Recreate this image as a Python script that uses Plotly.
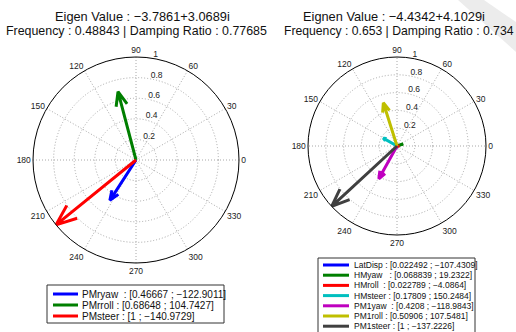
import math
import plotly.graph_objects as go

W, H = 516, 332

# ---- data ----
left_names = ["PMryaw", "PMrroll", "PMsteer"]
left_mags = [0.46667, 0.68648, 1]
left_angles = [-122.9011, 104.7427, -140.9729]
left_colors = ["#0000ff", "#007f00", "#ff0000"]

right_names = ["LatDisp", "HMyaw", "HMroll", "HMsteer", "PM1yaw", "PM1roll", "PM1steer"]
right_mags = [0.022492, 0.068839, 0.022789, 0.17809, 0.4208, 0.50906, 1]
right_angles = [-107.4309, 19.2322, -4.0864, 150.2484, -118.9843, 107.5481, -137.2226]
right_colors = ["#0000ff", "#007f00", "#ff0000", "#00bfbf", "#bf00bf", "#bfbf00", "#404040"]

left_title = ["Eigen Value : \u22123.7861+3.0689i", "Frequency : 0.48843 | Damping Ratio : 0.77685"]
right_title = ["Eignen Value : \u22124.4342+4.1029i", "Frequency : 0.653 | Damping Ratio : 0.734"]

angle_ticks = list(range(0, 360, 30))
radial_ticks = [0.2, 0.4, 0.6, 0.8, 1]
radial_labels = ["0.2", "0.4", "0.6", "0.8", "1"]

FONT = "Liberation Sans, Arial, sans-serif"


def px(x):
    return x / W


def py(y):
    return 1 - y / H


def arrow(m, a):
    # MATLAB compass arrow: 0 -> tip -> 0.8+0.08i -> tip -> 0.8-0.08i
    back = m * math.hypot(0.8, 0.08)
    da = math.degrees(math.atan2(0.08, 0.8))
    return [0, m, back, m, back], [a, a, a + da, a, a - da]


fig = go.Figure()

for names, mags, angs, cols, sub in [
    (left_names, left_mags, left_angles, left_colors, "polar"),
    (right_names, right_mags, right_angles, right_colors, "polar2"),
]:
    for n, m, a, c in zip(names, mags, angs, cols):
        r, t = arrow(m, a)
        fig.add_trace(go.Scatterpolar(r=r, theta=t, mode="lines", name=n,
                                      line=dict(color=c, width=3), subplot=sub,
                                      showlegend=False, hoverinfo="skip"))

GRID = "#a8a8a8"
RAD_ANGLE = 83


def polar_layout(domx, domy, fs):
    return dict(
        domain=dict(x=domx, y=domy),
        bgcolor="white",
        radialaxis=dict(range=[0, 1], tickvals=radial_ticks,
                        ticktext=[t + "<br>\u00a0" for t in radial_labels],
                        angle=RAD_ANGLE, tickangle=RAD_ANGLE, showline=False, ticks="",
                        gridcolor=GRID, griddash="1px,2px", gridwidth=1,
                        tickfont=dict(size=fs, color="#222", family=FONT)),
        angularaxis=dict(tickvals=angle_ticks, ticktext=[str(v) for v in angle_ticks],
                         rotation=0, direction="counterclockwise", showline=True,
                         linecolor="black", linewidth=1, ticks="",
                         gridcolor=GRID, griddash="1px,2px", gridwidth=1,
                         tickfont=dict(size=fs, color="#222", family=FONT)),
    )


fig.update_layout(
    width=W, height=H, margin=dict(l=0, r=0, t=0, b=0),
    paper_bgcolor="white", plot_bgcolor="white",
    showlegend=False,
    polar=polar_layout([px(33), px(239)], [py(263), py(57)], 8.5),
    polar2=polar_layout([px(308), px(486)], [py(235), py(57)], 8.5),
    font=dict(family=FONT, color="#111"),
)

shapes = []
annotations = []

# watermark band (background decoration)
shapes.append(dict(type="path", xref="paper", yref="paper", layer="below",
                   path=f"M {px(458)} {py(0)} L {px(484)} {py(0)} L {px(516)} {py(22)} L {px(516)} {py(52)} Z",
                   fillcolor="#ececec", line=dict(width=0)))

# titles
for txt, x, y, anc, fs in [(left_title[0], 142, 16.3, "center", 12.8), (left_title[1], 136, 31.3, "center", 12.4),
                           (right_title[0], 394, 16.3, "center", 12.8), (right_title[1], 283, 31.3, "left", 12.2)]:
    annotations.append(dict(text=txt, x=px(x), y=py(y), xref="paper", yref="paper",
                            xanchor=anc, yanchor="middle", showarrow=False, borderpad=0,
                            font=dict(size=fs, family=FONT, color="#111")))


def fmt(v):
    return str(v).replace("-", "\u2212")


def legend(names, mags, angs, cols, box, y0, dy, lx0, lx1, tx, fs):
    shapes.append(dict(type="rect", xref="paper", yref="paper",
                       x0=px(box[0]), x1=px(box[1]), y0=py(box[2]), y1=py(box[3]),
                       line=dict(color="#333", width=1), fillcolor="white"))
    for i, (n, m, a, c) in enumerate(zip(names, mags, angs, cols)):
        y = y0 + i * dy
        shapes.append(dict(type="line", xref="paper", yref="paper",
                           x0=px(lx0), x1=px(lx1), y0=py(y), y1=py(y),
                           line=dict(color=c, width=3)))
        label = n.ljust(7).replace(" ", "\u00a0") + "\u00a0: [" + fmt(m) + " ; " + fmt(a) + "]"
        annotations.append(dict(text=label, x=px(tx), y=py(y), xref="paper", yref="paper",
                                xanchor="left", yanchor="middle", showarrow=False,
                                font=dict(size=fs, family=FONT, color="#111")))


legend(left_names, left_mags, left_angles, left_colors,
       (47, 224, 285, 323), 294, 11, 53, 78, 80, 10)
legend(right_names, right_mags, right_angles, right_colors,
       (318, 475, 258, 334), 265, 10.2, 323, 349, 352, 8.5)

fig.update_layout(shapes=shapes, annotations=annotations)
fig.write_html("out.html", config={"displayModeBar": False},
               post_script="document.body.style.margin='0';document.body.style.overflow='hidden';")
